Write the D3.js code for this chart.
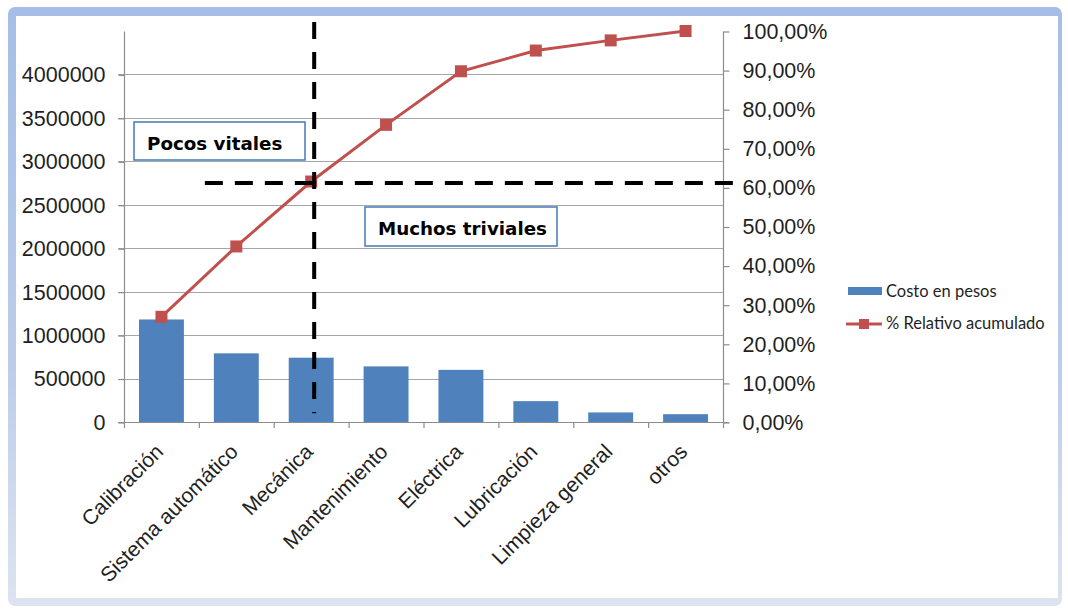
<!DOCTYPE html>
<html>
<head>
<meta charset="utf-8">
<script src="https://cdn.jsdelivr.net/npm/d3@7"></script>
<style>
  html, body { margin: 0; padding: 0; background: #fff; }
  svg { display: block; }
</style>
</head>
<body>
<svg id="chart" width="1068" height="609"></svg>
<script>
// Pareto data: maintenance cost by cause and cumulative share
const categories = ["Calibración", "Sistema automático", "Mecánica", "Mantenimiento",
                    "Eléctrica", "Lubricación", "Limpieza general", "otros"];
const costoEnPesos = [1180000, 790000, 740000, 640000, 600000, 240000, 110000, 90000];
const relativoAcumulado = [0.269, 0.449, 0.615, 0.760, 0.897, 0.950, 0.976, 1.000];
const leftTicks = [0, 500000, 1000000, 1500000, 2000000, 2500000, 3000000, 3500000, 4000000];
const rightTicks = [0, 0.1, 0.2, 0.3, 0.4, 0.5, 0.6, 0.7, 0.8, 0.9, 1.0];
const seriesNames = ["Costo en pesos", "% Relativo acumulado"];
const annotations = ["Pocos vitales", "Muchos triviales"];

const svg = d3.select("#chart");

// outer frame with soft blue border
const defs = svg.append("defs");
const grad = defs.append("linearGradient").attr("id", "frameGrad")
  .attr("x1", 0).attr("y1", 0).attr("x2", 0).attr("y2", 1);
grad.append("stop").attr("offset", "0%").attr("stop-color", "#a6bee6");
grad.append("stop").attr("offset", "60%").attr("stop-color", "#bccdea");
grad.append("stop").attr("offset", "100%").attr("stop-color", "#dde4ef");
svg.append("rect").attr("x", 8).attr("y", 7).attr("width", 1054).attr("height", 599)
  .attr("rx", 7).attr("fill", "url(#frameGrad)");
svg.append("rect").attr("x", 16).attr("y", 16).attr("width", 1042).attr("height", 582)
  .attr("fill", "#ffffff");

const plot = { left: 124, right: 723, top: 31, bottom: 422 };

const x = d3.scaleBand().domain(categories)
  .range([plot.left, plot.right]).paddingInner(0.4).paddingOuter(0.2);
const yL = d3.scaleLinear().domain([0, 4500000]).range([plot.bottom, plot.top]);
const yR = d3.scaleLinear().domain([0, 1]).range([plot.bottom, plot.top]);

const axisColor = "#8c8c8c";
const gridColor = "#a6a6a6";
const tickFont = "'Liberation Sans', Arial, sans-serif";
const tickSize = 21.5;
const textColor = "#1f1f1f";

// horizontal gridlines
svg.append("g").selectAll("line").data(leftTicks.filter(d => d > 0)).join("line")
  .attr("x1", plot.left - 6).attr("x2", plot.right)
  .attr("y1", d => Math.round(yL(d)) + 0.5).attr("y2", d => Math.round(yL(d)) + 0.5)
  .attr("stroke", gridColor).attr("stroke-width", 1.2);

// left axis
const leftAxis = d3.axisLeft(yL).tickValues(leftTicks).tickSize(6).tickPadding(13)
  .tickFormat(d3.format("d"));
const gL = svg.append("g").attr("transform", `translate(${plot.left + 0.5},0.5)`).call(leftAxis);
gL.select(".domain").attr("stroke", axisColor).attr("stroke-width", 1.2)
  .attr("d", `M0,${plot.top}V${plot.bottom}`);
gL.selectAll(".tick line").attr("stroke", axisColor).attr("stroke-width", 1.2);
gL.selectAll(".tick text").attr("font-family", tickFont).attr("font-size", tickSize)
  .attr("fill", textColor);

// right axis
const fmtPct = v => (v * 100).toFixed(2).replace(".", ",") + "%";
const rightAxis = d3.axisRight(yR).tickValues(rightTicks).tickSize(6).tickPadding(13)
  .tickFormat(fmtPct);
const gR = svg.append("g").attr("transform", `translate(${plot.right + 0.5},0.5)`).call(rightAxis);
gR.select(".domain").attr("stroke", axisColor).attr("stroke-width", 1.2)
  .attr("d", `M0,${plot.top}V${plot.bottom}`);
gR.selectAll(".tick line").attr("stroke", axisColor).attr("stroke-width", 1.2);
gR.selectAll(".tick text").attr("font-family", tickFont).attr("font-size", tickSize)
  .attr("fill", textColor);

// bars
svg.append("g").selectAll("rect").data(categories).join("rect")
  .attr("x", d => x(d))
  .attr("width", x.bandwidth())
  .attr("y", (d, i) => yL(costoEnPesos[i]))
  .attr("height", (d, i) => yL(0) - yL(costoEnPesos[i]))
  .attr("fill", "#4f81bd");

// category axis with ticks on band boundaries
const step = x.step();
svg.append("line").attr("x1", plot.left - 6).attr("x2", plot.right + 6)
  .attr("y1", plot.bottom + 0.5).attr("y2", plot.bottom + 0.5)
  .attr("stroke", axisColor).attr("stroke-width", 1.2);
svg.append("g").selectAll("line").data(d3.range(categories.length + 1)).join("line")
  .attr("x1", i => plot.left + i * step + 0.5).attr("x2", i => plot.left + i * step + 0.5)
  .attr("y1", plot.bottom).attr("y2", plot.bottom + 6)
  .attr("stroke", axisColor).attr("stroke-width", 1.2);
svg.append("g").selectAll("text").data(categories).join("text")
  .attr("transform", d => `translate(${x(d) + x.bandwidth() / 2 + 3},${plot.bottom + 31}) rotate(-45)`)
  .attr("text-anchor", "end")
  .attr("font-family", tickFont).attr("font-size", 21).attr("fill", textColor)
  .text(d => d);

// cumulative percentage line
const cx = d => x(d) + x.bandwidth() / 2;
const line = d3.line().x((d, i) => cx(categories[i])).y(d => yR(d));
svg.append("path").datum(relativoAcumulado)
  .attr("d", line).attr("fill", "none").attr("stroke", "#c0504d").attr("stroke-width", 3);
svg.append("g").selectAll("rect").data(relativoAcumulado).join("rect")
  .attr("x", (d, i) => cx(categories[i]) - 6)
  .attr("y", d => yR(d) - 6)
  .attr("width", 12).attr("height", 12)
  .attr("fill", "#c0504d");

// Pareto cut: dashed guides through the third cause
const cutIdx = 2;
const cutX = cx(categories[cutIdx]) + 3;
const cutY = yR(relativoAcumulado[cutIdx]) + 1.5;
svg.append("line")
  .attr("x1", cutX).attr("x2", cutX).attr("y1", plot.top - 9).attr("y2", yL(100000))
  .attr("stroke", "#000").attr("stroke-width", 4).attr("stroke-dasharray", "17 13");
svg.append("line")
  .attr("x1", x(categories[1]) - 9).attr("x2", plot.right + 12)
  .attr("y1", cutY).attr("y2", cutY)
  .attr("stroke", "#000").attr("stroke-width", 4).attr("stroke-dasharray", "18 12");

// annotation boxes
const boxFont = "'DejaVu Sans', Verdana, sans-serif";
function labelBox(text, bx, by, bw, bh, tx, ty) {
  svg.append("rect").attr("x", bx).attr("y", by).attr("width", bw).attr("height", bh)
    .attr("fill", "#fff").attr("stroke", "#4f81bd").attr("stroke-width", 1.6);
  svg.append("text").attr("x", tx).attr("y", ty)
    .attr("font-family", boxFont).attr("font-weight", "bold").attr("font-size", 18.3)
    .attr("fill", "#000").text(text);
}
labelBox(annotations[0], 134, 122, 171, 38, 147, 150);
labelBox(annotations[1], 365, 207, 192, 39, 378, 235);

// legend
const legFont = "Lato, 'Open Sans', sans-serif";
const leg = svg.append("g");
leg.append("rect").attr("x", 848).attr("y", 287).attr("width", 34).attr("height", 8)
  .attr("fill", "#4f81bd");
leg.append("text").attr("x", 886).attr("y", 297)
  .attr("font-family", legFont).attr("font-size", 16.5).attr("fill", textColor)
  .text(seriesNames[0]);
leg.append("line").attr("x1", 846).attr("x2", 882).attr("y1", 324).attr("y2", 324)
  .attr("stroke", "#c0504d").attr("stroke-width", 3);
leg.append("rect").attr("x", 859).attr("y", 319).attr("width", 10).attr("height", 10)
  .attr("fill", "#c0504d");
leg.append("text").attr("x", 886).attr("y", 329)
  .attr("font-family", legFont).attr("font-size", 16.5).attr("fill", textColor)
  .text(seriesNames[1]);
</script>
</body>
</html>
